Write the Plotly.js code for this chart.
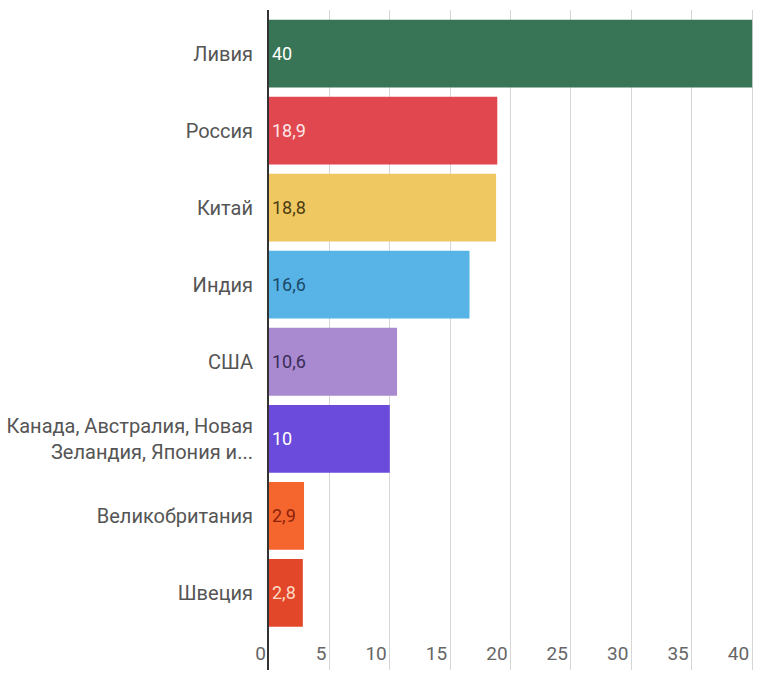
<!DOCTYPE html>
<html><head><meta charset="utf-8">
<script src="https://cdn.plot.ly/plotly-3.0.1.min.js"></script>
<style>html,body{margin:0;padding:0;background:#fff}#chart{width:757px;height:675px}</style>
</head><body><div id="chart"></div>
<script>
var categories = ["Ливия","Россия","Китай","Индия","США","Канада, Австралия, Новая Зеландия, Япония и...","Великобритания","Швеция"];
var tickLabels = ["Ливия","Россия","Китай","Индия","США","Канада, Австралия, Новая<br>Зеландия, Япония и...","Великобритания","Швеция"];
var values = [40, 18.9, 18.8, 16.6, 10.6, 10, 2.9, 2.8];
var valueLabels = ["40","18,9","18,8","16,6","10,6","10","2,9","2,8"];
var barColors = ["#387556","#e0474f","#f0c862","#58b4e6","#a98ad1","#6a4bdb","#f5662f","#e2472a"];
var labelColors = ["#ffffff","#fde6e8","#4d3d12","#1c4a6b","#3a2c57","#ffffff","#8c2208","#ffd9c4"];
var xTicks = [0,5,10,15,20,25,30,35,40];

var trace = {
  type: 'bar', orientation: 'h',
  x: values, y: categories,
  marker: {color: barColors},
  text: valueLabels, textposition: 'inside', insidetextanchor: 'start',
  textfont: {family: 'Roboto', size: 18, color: labelColors},
  hoverinfo: 'none', cliponaxis: false
};
var layout = {
  width: 757, height: 675,
  margin: {l: 269, r: 0, t: 10, b: 5},
  paper_bgcolor: '#fff', plot_bgcolor: '#fff',
  bargap: 0.12, showlegend: false,
  xaxis: {
    range: [0, 40.4], tickvals: xTicks, ticktext: xTicks.map(String),
    showgrid: true, gridcolor: '#d6d6d6', gridwidth: 1, zeroline: false,
    ticklabelposition: 'inside left', ticklabeloverflow: 'allow', ticklabelshift: -3, ticks: '',
    tickfont: {family: 'Roboto', size: 19, color: '#666'}
  },
  yaxis: {
    type: 'category', range: [8.0, -0.565],
    tickvals: categories, ticktext: tickLabels,
    showline: true, linecolor: '#333', linewidth: 2,
    showgrid: false, zeroline: false,
    ticks: 'outside', ticklen: 10, tickcolor: 'rgba(0,0,0,0)',
    tickfont: {family: 'Roboto', size: 20, color: '#555'}
  }
};
Plotly.newPlot('chart', [trace], layout, {displayModeBar: false, staticPlot: true});
</script></body></html>
